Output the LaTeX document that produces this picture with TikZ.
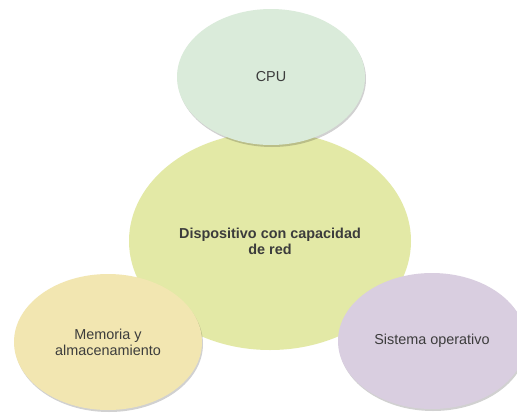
\documentclass[tikz,border=0pt]{standalone}
\usepackage{fontspec}
\setmainfont{Liberation Sans}
\usepackage{tikz}
\usetikzlibrary{shapes.geometric,shadows}
\definecolor{verdecpu}{HTML}{DAEBDA}
\definecolor{verdered}{HTML}{E3E9A6}
\definecolor{amarillomem}{HTML}{F2E6B1}
\definecolor{lilaso}{HTML}{D9CEE0}
\definecolor{textogris}{HTML}{3C3C3C}
\tikzset{
  burbuja/.style={ellipse, fill=#1, draw=none, inner sep=0pt, align=center,
                  minimum width=188pt, minimum height=136pt,
                  font=\fontsize{14.4}{16}\selectfont, text=textogris},
  sombra/.style={drop shadow={shadow xshift=1pt, shadow yshift=-2pt, fill=black, opacity=0.18}},
}

\begin{document}
\begin{tikzpicture}[x=1pt, y=-1pt]
\clip (0,0) rectangle (517,413);
\fill[white] (0,0) rectangle (517,413);
\node[burbuja=verdered, minimum width=282pt, minimum height=218pt, font=\fontsize{14.4}{16}\selectfont\bfseries] (red) at (270,241) {Dispositivo con capacidad\\de red};
\node[burbuja=verdecpu, sombra] (cpu) at (271,77) {CPU};
\node[burbuja=amarillomem, sombra] (mem) at (108,342) {Memoria y\\almacenamiento};
\node[burbuja=lilaso, sombra] (so) at (432,341) {Sistema operativo};
\end{tikzpicture}
\end{document}
